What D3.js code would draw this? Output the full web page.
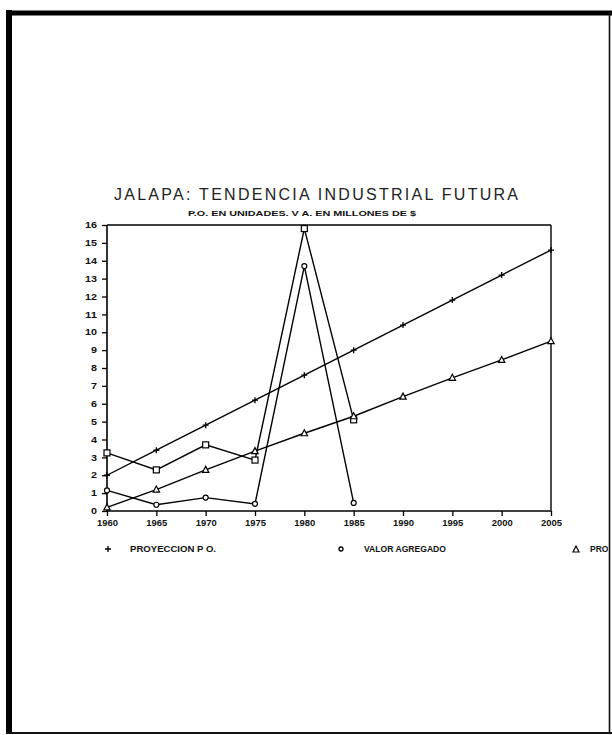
<!DOCTYPE html>
<html><head><meta charset="utf-8">
<script src="https://cdn.jsdelivr.net/npm/d3@7"></script>
<style>html,body{margin:0;padding:0;background:#fff;}svg{display:block;}</style>
</head><body>
<svg id="c" width="612" height="735"></svg>
<script>
const years = [1960,1965,1970,1975,1980,1985,1990,1995,2000,2005];
const proyeccionPO = [2.0,3.4,4.8,6.2,7.6,9.0,10.4,11.8,13.2,14.6];
const valorAgregadoYears = [1960,1965,1970,1975,1980,1985];
const valorAgregado = [1.15,0.35,0.75,0.4,13.7,0.45];
const personalYears = [1960,1965,1970,1975,1980,1985];
const personalOcupado = [3.25,2.3,3.7,2.85,15.8,5.1];
const proyeccionVA = [0.2,1.2,2.3,3.35,4.35,5.3,6.4,7.45,8.45,9.5];
const yTicks = [0,1,2,3,4,5,6,7,8,9,10,11,12,13,14,15,16];
const titleText = "JALAPA:  TENDENCIA  INDUSTRIAL  FUTURA";
const subtitleText = "P.O.  EN UNIDADES.  V A.  EN MILLONES DE $";
const legendLabels = ["PROYECCION P O.", "VALOR AGREGADO", "PROYECCION V.A."];

const svg = d3.select("#c");
const FONT = "'Liberation Sans', Arial, sans-serif";
// page frame
svg.append("rect").attr("x",0).attr("y",0).attr("width",612).attr("height",735).attr("fill","#fff");
svg.append("line").attr("x1",9).attr("x2",9).attr("y1",10).attr("y2",734).attr("stroke","#000").attr("stroke-width",6);
svg.append("line").attr("x1",6).attr("x2",612).attr("y1",13).attr("y2",13).attr("stroke","#000").attr("stroke-width",5);
svg.append("line").attr("x1",609.5).attr("x2",609.5).attr("y1",12).attr("y2",734).attr("stroke","#111").attr("stroke-width",1.6);
svg.append("line").attr("x1",6).attr("x2",612).attr("y1",733).attr("y2",733).attr("stroke","#111").attr("stroke-width",2);

const L=107, R=551, T=225, B=511;
const x = d3.scaleLinear().domain([1960,2005]).range([L,R]);
const y = d3.scaleLinear().domain([0,16]).range([B,T]);

// title
svg.append("text").attr("x",114).attr("y",200).attr("textLength",404).attr("lengthAdjust","spacing")
  .attr("font-family",FONT).attr("font-size",16).attr("font-weight","normal")
  .attr("fill","#222").text(titleText);
svg.append("text").attr("x",188).attr("y",216).attr("textLength",228).attr("lengthAdjust","spacingAndGlyphs")
  .attr("font-family",FONT).attr("font-size",7.5).attr("font-weight","bold")
  .attr("fill","#111").text(subtitleText);

// axes
const yAxis = d3.axisLeft(y).tickValues(yTicks).tickSize(5).tickPadding(5).tickFormat(d3.format("d"));
const gy = svg.append("g").attr("transform",`translate(${L},0)`).call(yAxis);
const xAxis = d3.axisBottom(x).tickValues(years).tickSize(5).tickPadding(4).tickFormat(d3.format("d"));
const gx = svg.append("g").attr("transform",`translate(0,${B})`).call(xAxis);
[gx,gy].forEach(g=>{
  g.select(".domain").attr("stroke","#000").attr("stroke-width",1.6);
  g.selectAll(".tick line").attr("stroke","#000").attr("stroke-width",1.3);
  g.selectAll("text").attr("font-family",FONT).attr("font-size",8.5)
    .attr("font-weight","bold").attr("fill","#111");
});
gx.selectAll(".tick text").attr("textLength",21).attr("lengthAdjust","spacingAndGlyphs");
gy.selectAll(".tick text").each(function(d){ d3.select(this).attr("textLength", d>=10?12:6).attr("lengthAdjust","spacingAndGlyphs"); });
gx.select(".domain").attr("d",`M${L},0H${R}`);
gy.select(".domain").attr("d",`M0,${B}V${T}`);
// top and right frame
svg.append("line").attr("x1",L).attr("x2",R).attr("y1",T).attr("y2",T).attr("stroke","#000").attr("stroke-width",1.4);
svg.append("line").attr("x1",R).attr("x2",R).attr("y1",T).attr("y2",B).attr("stroke","#000").attr("stroke-width",1.4);

const line = d3.line().x(d=>x(d[0])).y(d=>y(d[1]));
function series(xs, vs){ return xs.map((yr,i)=>[yr, vs[i]]); }
const sPO = series(years, proyeccionPO);
const sVA = series(valorAgregadoYears, valorAgregado);
const sP = series(personalYears, personalOcupado);
const sPVA = series(years, proyeccionVA);
[sPO,sVA,sP,sPVA].forEach(s=>{
  svg.append("path").attr("d",line(s)).attr("fill","none").attr("stroke","#000").attr("stroke-width",1.4);
});

const mk = svg.append("g").attr("stroke","#000").attr("fill","#fff").attr("stroke-width",1.2);
sPO.forEach(d=>{
  mk.append("path").attr("d",`M${x(d[0])-3},${y(d[1])}h6M${x(d[0])},${y(d[1])-3}v6`).attr("stroke-width",1.3);
});
sVA.forEach(d=>{
  mk.append("circle").attr("cx",x(d[0])).attr("cy",y(d[1])).attr("r",2.5);
});
sP.forEach(d=>{
  mk.append("rect").attr("x",x(d[0])-3).attr("y",y(d[1])-3).attr("width",6).attr("height",6);
});
sPVA.forEach(d=>{
  const cx=x(d[0]), cy=y(d[1]);
  mk.append("path").attr("d",`M${cx},${cy-3.5}L${cx+3.2},${cy+2.5}L${cx-3.2},${cy+2.5}Z`);
});

// legend
const lg = svg.append("g").attr("font-family",FONT).attr("font-size",8.5)
  .attr("font-weight","bold").attr("fill","#111");
const ly = 552;
lg.append("path").attr("d",`M${105},${ly-3}h6M${108},${ly-6}v6`).attr("stroke","#000").attr("stroke-width",1.3);
lg.append("text").attr("x",130).attr("y",ly).attr("textLength",86).attr("lengthAdjust","spacingAndGlyphs").text(legendLabels[0]);
lg.append("circle").attr("cx",341).attr("cy",ly-3).attr("r",2).attr("fill","#fff").attr("stroke","#000").attr("stroke-width",1.3);
lg.append("text").attr("x",364).attr("y",ly).attr("textLength",82).attr("lengthAdjust","spacingAndGlyphs").text(legendLabels[1]);
lg.append("path").attr("d",`M576,${ly-6}L579,${ly}L573,${ly}Z`).attr("fill","#fff").attr("stroke","#000").attr("stroke-width",1.2);
svg.append("clipPath").attr("id","cl").append("rect").attr("x",0).attr("y",0).attr("width",608).attr("height",735);
lg.append("text").attr("x",590).attr("y",ly).attr("clip-path","url(#cl)").text(legendLabels[2]);
</script>
</body></html>
